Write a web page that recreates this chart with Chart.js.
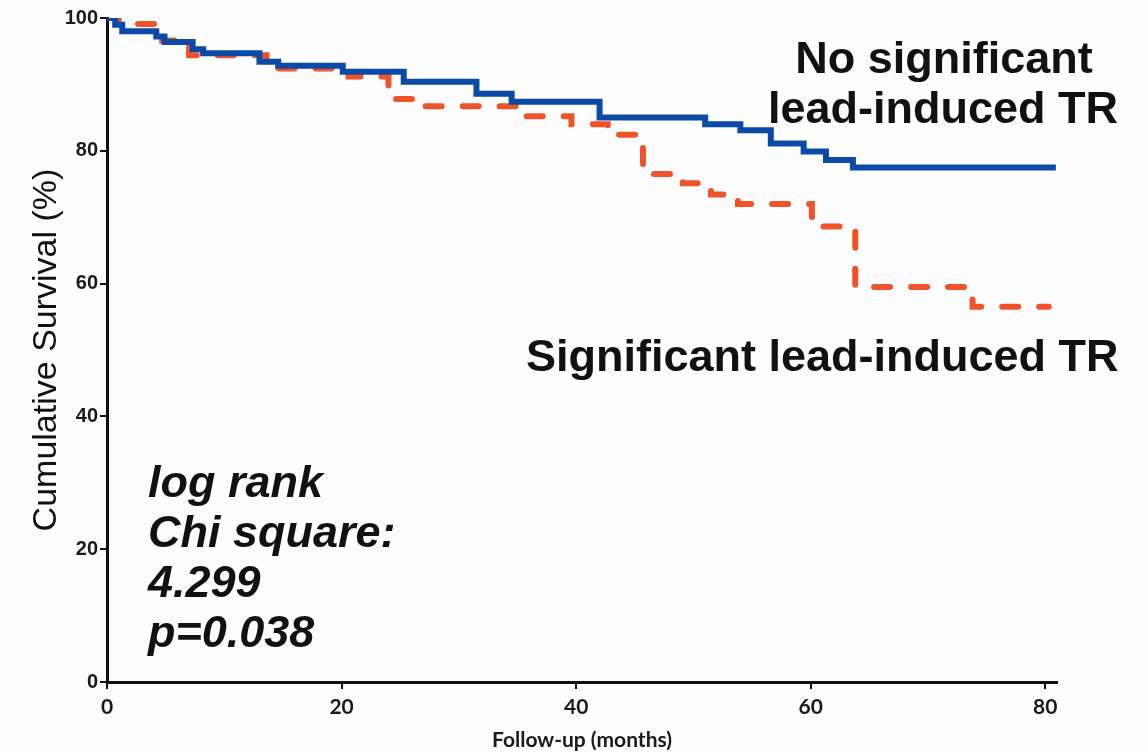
<!DOCTYPE html>
<html>
<head>
<meta charset="utf-8">
<style>
  html, body { margin: 0; padding: 0; background: #fdfdfd; }
  #wrap { width: 1148px; height: 754px; }
</style>
<script src="https://cdn.jsdelivr.net/npm/chart.js@4.4.1/dist/chart.umd.min.js"></script>
</head>
<body>
<div id="wrap"><canvas id="km"></canvas></div>
<script>
// Kaplan-Meier steps (month of each drop, survival % after it)
const noTrMonths   = [0, 0.7, 1.3, 4.2, 4.9, 7.3, 8.2, 13.0, 14.6, 20.1, 25.3, 31.5, 34.5, 42.0, 51.0, 54.0, 56.6, 59.4, 61.3, 63.6, 80.9];
const noTrSurvival = [100, 99, 98, 97.2, 96.4, 95.3, 94.7, 93.4, 92.8, 91.9, 90.4, 88.6, 87.4, 85.0, 84.0, 83.1, 81.1, 79.9, 78.6, 77.5, 77.5];

const trMonths   = [0, 1.0, 4.7, 7.0, 13.6, 20.6, 24.0, 26.5, 35.0, 39.6, 42.7, 45.7, 49.1, 51.5, 53.8, 60.1, 63.8, 73.8, 80.3];
const trSurvival = [100, 99.1, 96.6, 94.4, 92.4, 91.2, 87.8, 86.7, 85.2, 84.0, 82.4, 76.5, 75.1, 73.4, 72.0, 68.6, 59.5, 56.5, 56.5];

const xTicks = [0, 20, 40, 60, 80];
const yTicks = [0, 20, 40, 60, 80, 100];

const statLines = ['log rank', 'Chi square:', '4.299', 'p=0.038'];

function toPoints(xs, ys) {
    return xs.map((x, i) => ({ x: x, y: ys[i] }));
}

// white page + text labels drawn on top of the plot
const labelsPlugin = {
    id: 'labels',
    beforeDraw(chart) {
        const ctx = chart.ctx;
        ctx.save();
        ctx.fillStyle = '#fdfdfd';
        ctx.fillRect(0, 0, chart.width, chart.height);
        ctx.restore();
    },
    afterDraw(chart) {
        const ctx = chart.ctx;
        ctx.save();
        ctx.fillStyle = '#111';
        ctx.textBaseline = 'alphabetic';
        ctx.font = 'bold 45px "Liberation Sans", Arial, sans-serif';
        ctx.textAlign = 'center';
        ctx.fillText('No significant', 944, 73);
        ctx.fillText('lead-induced TR', 943, 123);
        ctx.textAlign = 'left';
        ctx.fillText('Significant lead-induced TR', 526, 371);
        ctx.font = 'italic bold 45px "Liberation Sans", Arial, sans-serif';
        statLines.forEach((t, i) => ctx.fillText(t, 148, 497 + i * 50));
        ctx.restore();
    }
};

new Chart(document.getElementById('km'), {
    type: 'line',
    data: {
        datasets: [
            {
                label: 'No significant lead-induced TR',
                data: toPoints(noTrMonths, noTrSurvival),
                stepped: 'before',
                borderColor: '#0b4aa6',
                borderWidth: 6,
                pointRadius: 0,
                fill: false
            },
            {
                label: 'Significant lead-induced TR',
                data: toPoints(trMonths, trSurvival),
                stepped: 'before',
                borderColor: '#f0532a',
                borderWidth: 6,
                borderDash: [16, 21],
                borderCapStyle: 'round',
                pointRadius: 0,
                fill: false
            }
        ]
    },
    options: {
        responsive: true,
        maintainAspectRatio: false,
        animation: false,
        layout: { padding: { left: 0, top: 18, right: 91, bottom: 0 } },
        plugins: {
            legend: { display: false },
            tooltip: { enabled: false }
        },
        scales: {
            x: {
                type: 'linear',
                min: 0,
                max: 81,
                afterFit: s => { s.height = 72; },
                afterBuildTicks: s => { s.ticks = xTicks.map(v => ({ value: v })); },
                grid: { drawOnChartArea: false, drawTicks: true, tickLength: 7, color: '#111', lineWidth: 2 },
                border: { display: true, color: '#111', width: 3 },
                ticks: {
                    padding: 6,
                    color: '#1a1a1a',
                    font: { family: 'Lato, "Liberation Sans", sans-serif', size: 21, weight: 'bold' }
                },
                title: {
                    display: true,
                    text: 'Follow-up (months)',
                    color: '#1a1a1a',
                    font: { family: 'Lato, "Liberation Sans", sans-serif', size: 21, weight: 'bold', lineHeight: 1 },
                    padding: { top: 0, bottom: 3 }
                }
            },
            y: {
                min: 0,
                max: 100,
                afterFit: s => { s.width = 107; },
                afterBuildTicks: s => { s.ticks = yTicks.map(v => ({ value: v })); },
                grid: { drawOnChartArea: false, drawTicks: true, tickLength: 7, color: '#111', lineWidth: 2 },
                border: { display: true, color: '#111', width: 3 },
                ticks: {
                    padding: 2,
                    color: '#1a1a1a',
                    font: { family: '"Liberation Sans", Arial, sans-serif', size: 20, weight: 'bold' }
                },
                title: {
                    display: true,
                    text: 'Cumulative Survival (%)',
                    color: '#111',
                    font: { family: '"Liberation Sans", Arial, sans-serif', size: 34, lineHeight: 1 },
                    padding: { top: 30, bottom: 0 }
                }
            }
        }
    },
    plugins: [labelsPlugin]
});
</script>
</body>
</html>
